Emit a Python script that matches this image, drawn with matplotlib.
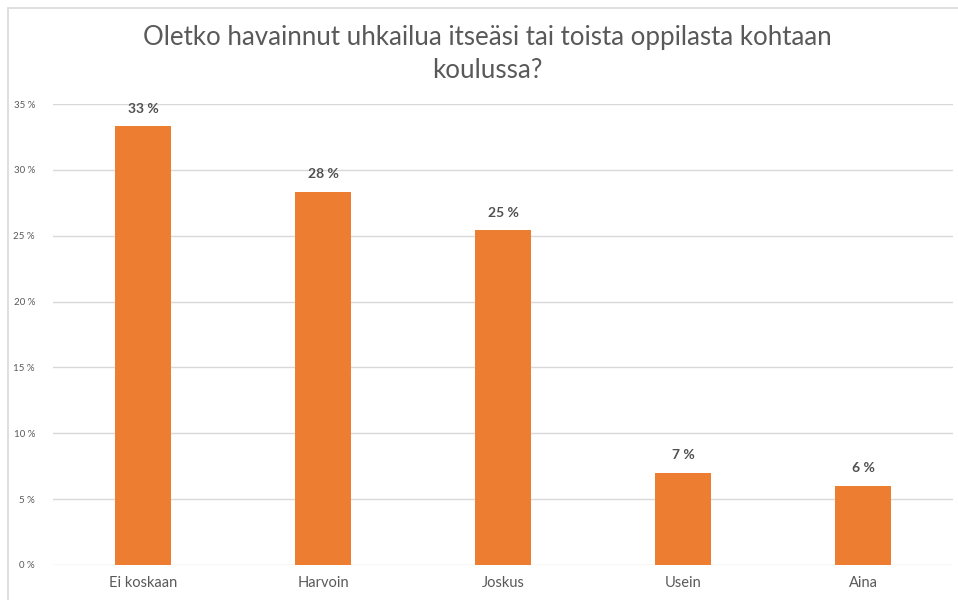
import matplotlib.pyplot as plt
from matplotlib.patches import Rectangle

# Vastausten osuudet (%)
kategoriat = ['Ei koskaan', 'Harvoin', 'Joskus', 'Usein', 'Aina']
osuudet = [33.3, 28.3, 25.4, 7.0, 6.0]
nimikkeet = ['33 %', '28 %', '25 %', '7 %', '6 %']
y_tikit = [0, 5, 10, 15, 20, 25, 30, 35]

plt.rcParams['font.family'] = ['Lato', 'DejaVu Sans']

fig = plt.figure(figsize=(9.58, 6.0), dpi=100)
# kehys kuten Excel-kaaviossa
fig.patches.append(Rectangle((8 / 958, -0.1), 1.2, (600 - 8) / 600 + 0.1,
                             transform=fig.transFigure, fill=False,
                             edgecolor='#d9d9d9', linewidth=1.2))

ax = fig.add_axes([53 / 958, 35 / 600, 900 / 958, 461 / 600])
x = range(len(kategoriat))
ax.bar(x, osuudet, width=0.31, color='#ED7D31', zorder=3)

for xi, v, t in zip(x, osuudet, nimikkeet):
    ax.text(xi, v + 0.9, t, ha='center', va='bottom', fontsize=10,
            color='#505050', fontweight='bold')

ax.set_xlim(-0.5, len(kategoriat) - 0.5)
ax.set_ylim(0, 35)
ax.set_yticks(y_tikit)
ax.set_yticklabels([f'{t} %' for t in y_tikit], fontsize=7, color='#595959')
ax.set_xticks(list(x))
ax.set_xticklabels(kategoriat, fontsize=10.5, color='#595959')
ax.tick_params(length=0)
ax.tick_params(axis='y', pad=13)
ax.tick_params(axis='x', pad=8)
ax.grid(axis='y', color='#d9d9d9', linewidth=1)
for s in ax.spines.values():
    s.set_visible(False)

fig.text(487 / 958, 1 - 54 / 600,
         'Oletko havainnut uhkailua itseäsi tai toista oppilasta kohtaan\nkoulussa?',
         ha='center', va='center', fontsize=18.6, color='#595959', linespacing=1.4)

fig.savefig('out.png', dpi=100)
